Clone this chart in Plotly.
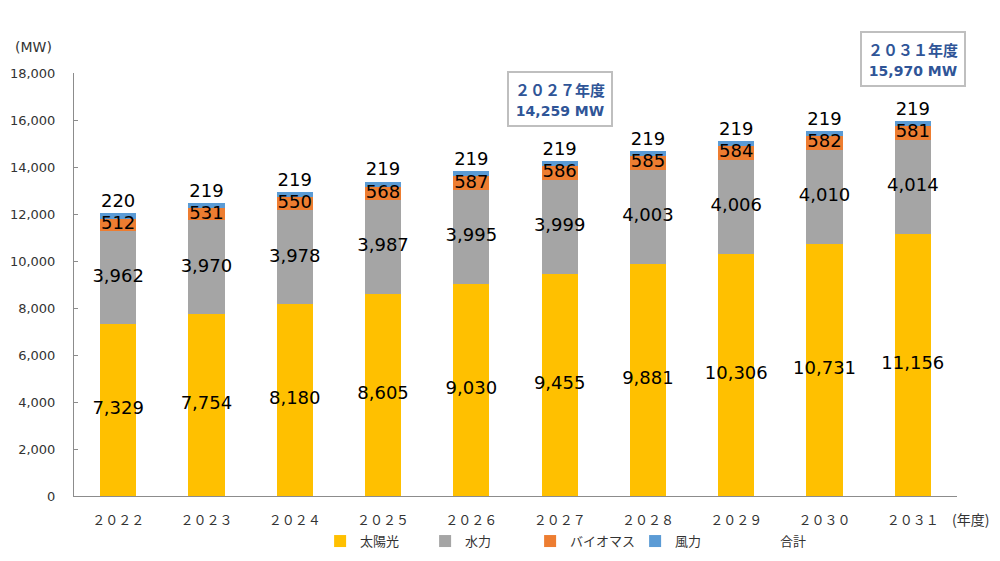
import plotly.graph_objects as go

years = ["2022", "2023", "2024", "2025", "2026", "2027", "2028", "2029", "2030", "2031"]
tick_labels = ["２０２２", "２０２３", "２０２４", "２０２５", "２０２６", "２０２７", "２０２８", "２０２９", "２０３０", "２０３１"]
solar = [7329, 7754, 8180, 8605, 9030, 9455, 9881, 10306, 10731, 11156]
hydro = [3962, 3970, 3978, 3987, 3995, 3999, 4003, 4006, 4010, 4014]
biomass = [512, 531, 550, 568, 587, 586, 585, 584, 582, 581]
wind = [220, 219, 219, 219, 219, 219, 219, 219, 219, 219]
series_names = ["太陽光", "水力", "バイオマス", "風力", "合計"]
colors = ["#FFC000", "#A5A5A5", "#ED7D31", "#5B9BD5"]
y_ticks = [0, 2000, 4000, 6000, 8000, 10000, 12000, 14000, 16000, 18000]

LABEL_FONT = dict(family="DejaVu Sans", size=18, color="#000000")
JP = "Noto Sans CJK JP"

fig = go.Figure()
series = [solar, hydro, biomass, wind]
for name, vals, col in zip(series_names[:4], series, colors):
    fig.add_trace(go.Bar(x=years, y=vals, name=name, marker=dict(color=col, line=dict(width=0)),
                         hoverinfo="skip"))

# data labels centred in segments
base = [0] * len(years)
for vals in series[:3]:
    mids = [b + v / 2 for b, v in zip(base, vals)]
    fig.add_trace(go.Scatter(x=years, y=mids, mode="text", text=[f"{v:,}" for v in vals],
                             textposition="middle center", textfont=LABEL_FONT,
                             showlegend=False, hoverinfo="skip"))
    base = [b + v for b, v in zip(base, vals)]

totals = [s + h + b + w for s, h, b, w in zip(solar, hydro, biomass, wind)]
fig.add_trace(go.Scatter(x=years, y=totals, mode="markers+text", name=series_names[4],
                         marker=dict(color="rgba(0,0,0,0)", size=1),
                         text=[f"{v:,}" for v in wind], textposition="top center",
                         textfont=LABEL_FONT, hoverinfo="skip"))

fig.update_layout(
    barmode="stack",
    bargap=0.59,
    width=992, height=553,
    margin=dict(l=66, r=43, t=65, b=65, autoexpand=False),
    plot_bgcolor="white", paper_bgcolor="white",
    font=dict(family="DejaVu Sans", size=13, color="#333333"),
    showlegend=True,
    legend=dict(orientation="h", x=0.576, xanchor="center", yref="container", y=0.036,
                yanchor="middle", bgcolor="rgba(0,0,0,0)",
                font=dict(family=JP, size=13, color="#333333"),
                entrywidth=60, traceorder="normal", itemwidth=30),
    xaxis=dict(type="category", categoryarray=years, range=[-0.5, 9.5], automargin=False,
               tickvals=years, ticktext=tick_labels, ticklabelstandoff=12,
               tickfont=dict(family=JP, size=13, color="#333333"),
               showline=True, linecolor="#8C8C8C", linewidth=1, ticks="", showgrid=False),
    yaxis=dict(range=[0, 18000], tickvals=y_ticks, tickformat=",d", ticklabelstandoff=15,
               automargin=False,
               showline=True, linecolor="#8C8C8C", linewidth=1,
               ticks="inside", ticklen=4, tickcolor="#8C8C8C", showgrid=False, zeroline=False,
               tickfont=dict(family="DejaVu Sans", size=13, color="#333333")),
)

fig.add_annotation(x=-0.046, y=1.061, xref="paper", yref="paper", text="(MW)", showarrow=False,
                   xanchor="center", yanchor="middle",
                   font=dict(family="DejaVu Sans", size=14, color="#333333"))
fig.add_annotation(x=0.992, y=-0.054, xref="paper", yref="paper", text="(年度)", showarrow=False,
                   xanchor="left", yanchor="middle",
                   font=dict(family=JP, size=14, color="#333333"))

box_font = dict(family=JP, size=15, color="#2F5597")
num_style = "font-family:'DejaVu Sans';font-size:14px"
idx_2027 = years.index("2027")
idx_2031 = years.index("2031")
fig.add_annotation(x=idx_2027, y=16894, xref="x", yref="y", xanchor="center", yanchor="middle",
                   text=f"<b>２０２７年度</b><br><b><span style=\"{num_style}\">14,259 MW</span></b>",
                   showarrow=False,
                   font=box_font, bgcolor="white", bordercolor="#BFBFBF", borderwidth=2,
                   width=100, height=50, align="center")
fig.add_annotation(x=idx_2031, y=1.033, xref="x", yref="paper", xanchor="center", yanchor="middle",
                   text=f"<b>２０３１年度</b><br><b><span style=\"{num_style}\">15,970 MW</span></b>",
                   showarrow=False,
                   font=box_font, bgcolor="white", bordercolor="#BFBFBF", borderwidth=2,
                   width=100, height=50, align="center")

fig.write_html("out.html")
